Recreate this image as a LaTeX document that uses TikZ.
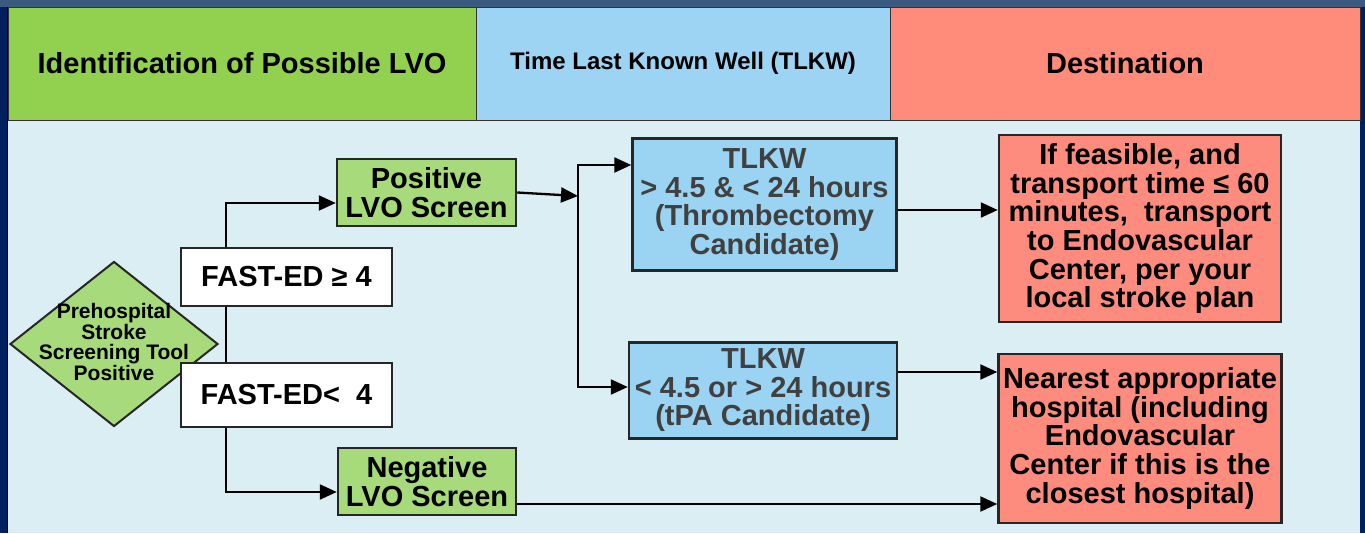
\documentclass[tikz,border=0pt]{standalone}
\usepackage{fontspec}
\setmainfont{Liberation Sans}
\usepackage{tikz}
\usetikzlibrary{arrows.meta}
\usetikzlibrary{shapes.geometric}
\pgfdeclarelayer{frame}
\pgfdeclarelayer{background}
\pgfsetlayers{frame,background,main}

\definecolor{navy}{HTML}{002060}
\definecolor{topband}{HTML}{3A5A80}
\definecolor{bodybg}{HTML}{DBEEF4}
\definecolor{hgreen}{HTML}{92D050}
\definecolor{hblue}{HTML}{9DD3F3}
\definecolor{hsalmon}{HTML}{FF8B7B}
\definecolor{ngreen}{HTML}{A6DA7A}
\definecolor{nblue}{HTML}{9BD3F3}
\definecolor{nsalmon}{HTML}{FE8C7E}
\definecolor{tgray}{HTML}{404040}

\tikzset{
  hdr/.style={draw=black!80, line width=1pt, minimum height=113pt, inner sep=0pt,
    font=\fontsize{29}{30}\selectfont\bfseries},
  box/.style={draw=black!85, line width=2.5pt, inner sep=0pt, align=center,
    font=\fontsize{29}{28.6}\selectfont\bfseries},
  lvobox/.style={box, fill=ngreen},
  fastbox/.style={box, fill=white},
  timebox/.style={box, fill=nblue, text=tgray},
  destbox/.style={box, fill=nsalmon},
  arr/.style={line width=2.3pt, -{Triangle[length=17pt,width=15pt]}},
}

\begin{document}
\begin{tikzpicture}[x=1pt,y=-1pt]
  \useasboundingbox (0,0) rectangle (1365,533);
  % frame and panels
  \begin{pgfonlayer}{frame}
    \fill[navy] (0,0) rectangle (1365,533);
    \fill[topband] (0,0) rectangle (1365,6.5);
    \fill[bodybg] (8,120) rectangle (1360,533);
    \draw[black, line width=1.2pt] (7.5,6.5) -- (7.5,533);
    \draw[black, line width=1.2pt] (7.5,120.5) -- (1360,120.5);
  \end{pgfonlayer}

  % column headers
  \node[hdr, fill=hgreen, minimum width=468pt] (hlvo) at (242,63.5) {Identification of Possible LVO};
  \node[hdr, fill=hblue, minimum width=414pt, font=\fontsize{24}{25}\selectfont\bfseries] (htlkw) at (683,63.5) {Time Last Known Well (TLKW)};
  \node[hdr, fill=hsalmon, minimum width=470pt] (hdest) at (1125,63.5) {Destination};

  % screening
  \node[diamond, draw=black!85, line width=2pt, fill=ngreen, minimum width=208pt, minimum height=165pt, inner sep=0pt,
    label={[font=\fontsize{21}{20.7}\selectfont\bfseries, align=center, yshift=2pt]center:{Prehospital\\Stroke\\Screening Tool\\Positive}}] (tool) at (114,344) {};
  \node[fastbox, minimum width=211pt, minimum height=58pt] (fge) at (286.5,277) {FAST-ED ≥ 4};
  \node[fastbox, minimum width=211pt, minimum height=64pt] (flt) at (286.5,395) {FAST-ED<~ 4};

  \node[lvobox, minimum width=179pt, minimum height=67pt] (pos) at (426.5,192.5) {Positive\\LVO Screen};
  \node[lvobox, minimum width=178pt, minimum height=67pt] (neg) at (427,481.5) {Negative\\LVO Screen};

  % time windows
  \node[timebox, minimum width=264pt, minimum height=132pt] (thr) at (764.5,204.5) {TLKW\\> 4.5 \& < 24 hours\\(Thrombectomy\\Candidate)};
  \node[timebox, minimum width=268pt, minimum height=96pt] (tpa) at (763,390.3) {TLKW\\< 4.5 or > 24 hours\\(tPA Candidate)};

  % destinations
  \node[destbox, minimum width=282pt, minimum height=187pt] (feas) at (1140,228.7) {If feasible, and\\transport time ≤ 60\\minutes,~ transport\\to Endovascular\\Center, per your\\local stroke plan};
  \node[destbox, minimum width=283pt, minimum height=169pt] (near) at (1140,438.3) {Nearest appropriate\\hospital (including\\Endovascular\\Center if this is the\\closest hospital)};

  \begin{pgfonlayer}{background}
    \coordinate (fork) at (226,344);
    \coordinate (join) at (578,196);
    \draw[arr] (fork) |- ([yshift=-10.5pt]pos.west);
    \draw[arr] (fork) |- ([yshift=-10.5pt]neg.west);
    \draw[arr] (pos.east) -- (join);
    \draw[arr] (join) |- ([yshift=39.5pt]thr.west);
    \draw[arr] (join) |- ([yshift=3.3pt]tpa.west);
    \draw[arr] ([yshift=-5.5pt]thr.east) coordinate (t1) -- (t1 -| feas.west);
    \draw[arr] ([yshift=18.3pt]tpa.east) coordinate (t2) -- (t2 -| near.west);
    \draw[arr] ([yshift=-22.5pt]neg.east) coordinate (t3) -- (t3 -| near.west);
  \end{pgfonlayer}
\end{tikzpicture}
\end{document}
